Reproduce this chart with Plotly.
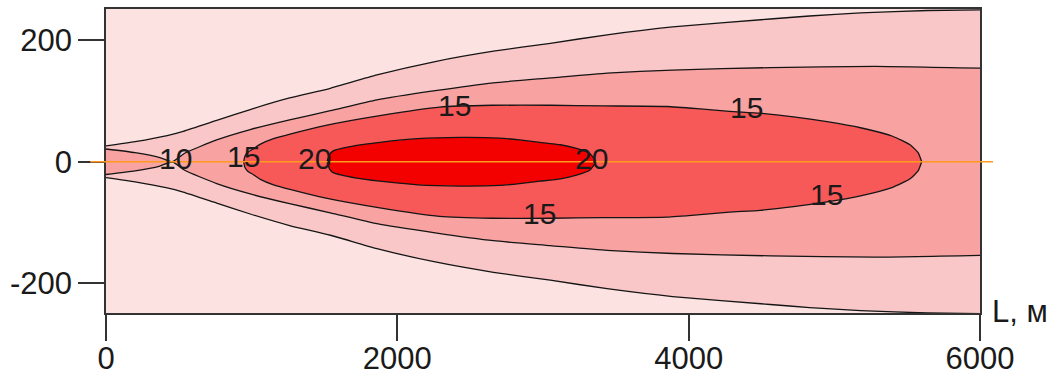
import plotly.graph_objects as go

# Isolines of the plume: distance downwind L (m) and half-width (m) of each level
x_lvl5 = [0, 200, 420, 530, 760, 990, 1260, 1540, 1860, 2260, 2660, 3050, 3440, 3890, 4560, 4830, 5180, 5640, 6000]
w_lvl5 = [26, 33, 43, 50, 68, 86, 105, 121, 143, 165, 182, 195, 209, 222, 235, 240, 245, 249, 250]

x_lvl10 = [0, 200, 370, 455, 540, 760, 990, 1260, 1540, 1860, 2260, 2660, 3050, 3440, 3890, 4560, 5280, 6000]
w_lvl10 = [21, 15, 7, 0, 14, 36, 53, 69, 84, 102, 117, 130, 138, 146, 151, 155, 157, 154]

x_lvl15 = [945, 955, 975, 1010, 1060, 1150, 1270, 1510, 1880, 2290, 2650, 3050, 3410, 3850, 4080, 4280,
           4490, 4720, 4950, 5180, 5400, 5520, 5575, 5600]
w_lvl15 = [0, 10, 16, 21, 29, 38, 46, 60, 76, 90, 93, 93, 92, 91, 87, 83, 80, 74, 66, 56, 42, 28, 15, 0]

x_lvl20 = [1517, 1535, 1560, 1720, 1880, 2140, 2430, 2700, 2840, 2980, 3120, 3230, 3320, 3365]
w_lvl20 = [0, 12, 18, 27, 32, 38, 40, 39, 36, 32, 28, 22, 14, 0]

# Contour labels: value, L (m), y (m)
label_text = ["10", "15", "20", "15", "20", "15", "15", "15"]
label_x = [474, 947, 1428, 2389, 3330, 4400, 2973, 4943]
label_y = [5, 8, 6, 92, 6, 90, -85, -54]

x_ticks = [0, 2000, 4000, 6000]
x_ticktext = ["0", "2000", "4000", "6000"]
y_ticks = [-200, 0, 200]
y_ticktext = ["-200", "0", "200"]

band_colors = {
    "below5": "#FDE2E2",
    "5": "#F9C7C7",
    "10": "#F8A2A2",
    "15": "#F75959",
    "20": "#F30000",
}

FONT = "Liberation Sans, Arial, sans-serif"
INK = "#1a1a1a"
FRAME = "#333333"
ISOLINE = dict(color="#151515", width=1.3, shape="spline", smoothing=0.5)

fig = go.Figure()


def band(xs, ws, color):
    """Region -w(x) <= y <= w(x), filled and bounded by two black isolines."""
    fig.add_trace(go.Scatter(
        x=xs, y=[-v for v in ws], mode="lines", line=ISOLINE,
        hoverinfo="skip", showlegend=False,
    ))
    fig.add_trace(go.Scatter(
        x=xs, y=ws, mode="lines", line=ISOLINE, fill="tonexty", fillcolor=color,
        hoverinfo="skip", showlegend=False,
    ))


band(x_lvl5, w_lvl5, band_colors["5"])
band(x_lvl10, w_lvl10, band_colors["10"])
band(x_lvl15, w_lvl15, band_colors["15"])
band(x_lvl20, w_lvl20, band_colors["20"])

for t, lx, ly in zip(label_text, label_x, label_y):
    fig.add_annotation(x=lx, y=ly, text=t, showarrow=False,
                       font=dict(family=FONT, size=30, color=INK),
                       xanchor="center", yanchor="middle")

# plume axis
fig.add_shape(type="line", xref="paper", yref="y", x0=-0.018, x1=1.015, y0=0, y1=0,
              line=dict(color="#FF9A1F", width=1.5), layer="above")

# axis name
fig.add_annotation(xref="paper", yref="paper", x=1.011, y=0.006, text="L, м",
                   showarrow=False, xanchor="left", yanchor="middle",
                   font=dict(family=FONT, size=31, color=INK))

axis_common = dict(
    showgrid=False, zeroline=False, showline=True, linecolor=FRAME, linewidth=1.5,
    mirror=True, ticks="outside", ticklen=26, tickwidth=1.5, tickcolor=FRAME,
    tickfont=dict(family=FONT, size=31, color=INK), automargin=False,
)

fig.update_xaxes(range=[0, 6000], tickmode="array", tickvals=x_ticks, ticktext=x_ticktext,
                 ticklabelstandoff=-9, **axis_common)
fig.update_yaxes(range=[-249, 251.5], tickmode="array", tickvals=y_ticks, ticktext=y_ticktext, **axis_common)

fig.update_layout(
    width=1054, height=376,
    margin=dict(l=106, r=74, t=9, b=63),
    paper_bgcolor="white",
    plot_bgcolor=band_colors["below5"],
    showlegend=False,
)

fig.write_html("out.html")
